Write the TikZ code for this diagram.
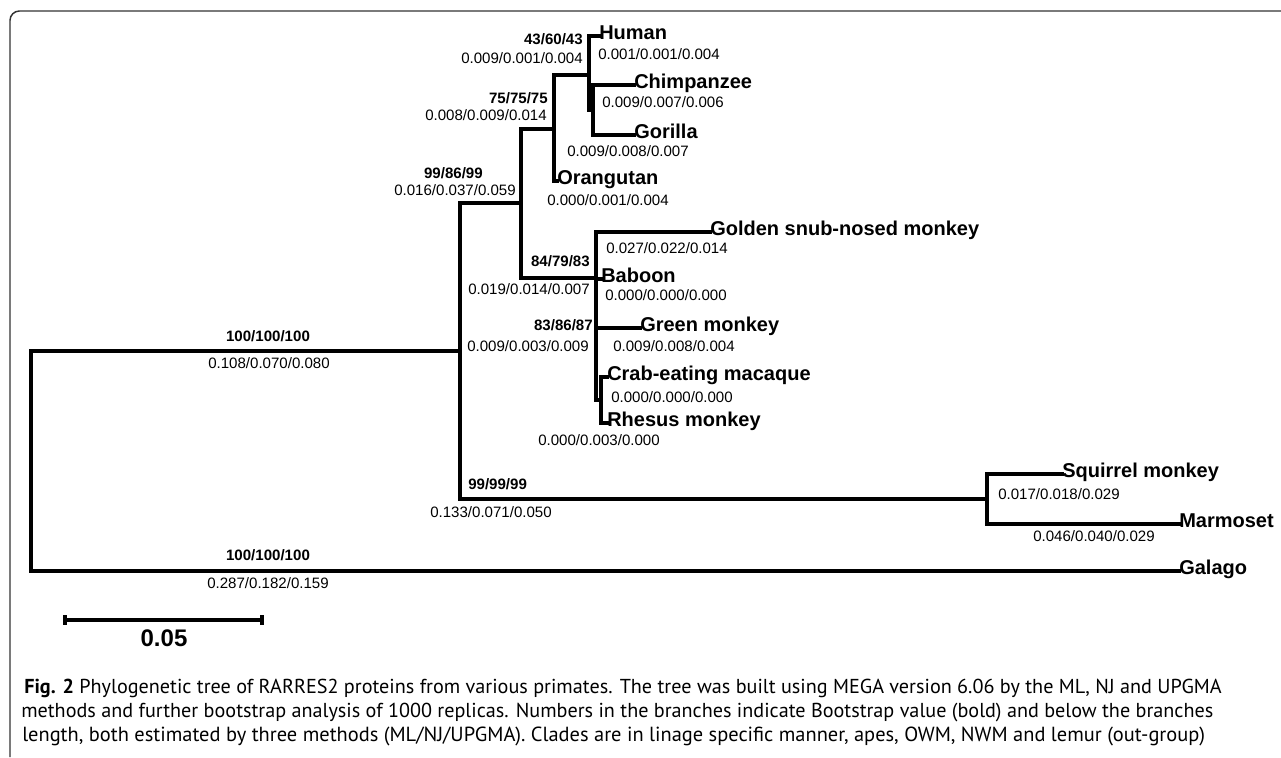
\documentclass[tikz,border=0pt]{standalone}
\usepackage{fontspec}
\setmainfont{Liberation Sans}
\newfontfamily\capfont{PT Sans}
\usepackage{tikz}
\usetikzlibrary{arrows.meta}
\tikzset{branch/.style = {line width = 3pt, line cap = rect, line join = miter}}
\tikzset{taxon/.style = {anchor = mid west, inner sep = 0pt, font = \bfseries\fontsize{15}{18}\selectfont}}
\tikzset{boot/.style = {inner sep = 0pt, font = \bfseries\fontsize{11.3}{13}\selectfont}}
\tikzset{blen/.style = {inner sep = 0pt, font = \fontsize{11.3}{13}\selectfont}}
\tikzset{capline/.style = {anchor = mid west, inner sep = 0pt, font = \capfont\fontsize{13.5}{16}\selectfont}}

\begin{document}
\begin{tikzpicture}[x = 0.75pt, y = -0.75pt]
				\useasboundingbox (0, 0) rectangle (1281, 757);
				\draw[line width = 1.1pt, black!80, rounded corners = 7pt] (10, 757) -- (10, 11) -- (1281, 11);

				\coordinate (root) at (31, 351);
				\coordinate (ingroup) at (460, 351);
				\coordinate (catarrh) at (521, 203);
				\coordinate (apes) at (554, 129);
				\coordinate (hominini) at (589, 75);
				\coordinate (pangor) at (593, 110);
				\coordinate (owm) at (596, 278);
				\coordinate (cerco) at (596, 328);
				\coordinate (macaca) at (601, 400);
				\coordinate (nwm) at (987, 499);

				\node[taxon] (human) at (599, 36) {Human};
				\node[taxon] (chimp) at (634, 85) {Chimpanzee};
				\node[taxon] (gorilla) at (634, 135) {Gorilla};
				\node[taxon] (orangutan) at (557, 181) {Orangutan};
				\node[taxon] (golden) at (710, 232) {Golden snub-nosed monkey};
				\node[taxon] (baboon) at (601, 279) {Baboon};
				\node[taxon] (green) at (640, 328) {Green monkey};
				\node[taxon] (crab) at (607, 377) {Crab-eating macaque};
				\node[taxon] (rhesus) at (607, 423) {Rhesus monkey};
				\node[taxon] (squirrel) at (1062, 474) {Squirrel monkey};
				\node[taxon] (marmoset) at (1179, 524) {Marmoset};
				\node[taxon] (galago) at (1179, 571) {Galago};

				\draw[branch] (root) |- (ingroup);
				\draw[branch] (root) |- (galago.mid west);
				\draw[branch] (ingroup) |- (catarrh);
				\draw[branch] (ingroup) |- (nwm);
				\draw[branch] (catarrh) |- (apes);
				\draw[branch] (catarrh) |- (owm);
				\draw[branch] (apes) |- (hominini);
				\draw[branch] (apes) |- (orangutan.mid west);
				\draw[branch] (hominini) |- (human.mid west);
				\draw[branch] (hominini) |- (pangor);
				\draw[branch] (pangor) |- (chimp.mid west);
				\draw[branch] (pangor) |- (gorilla.mid west);
				\draw[branch] (owm) |- (golden.mid west);
				\draw[branch] (owm) |- (baboon.mid west);
				\draw[branch] (owm) |- (cerco);
				\draw[branch] (cerco) |- (green.mid west);
				\draw[branch] (cerco) |- (macaca);
				\draw[branch] (macaca) |- (crab.mid west);
				\draw[branch] (macaca) |- (rhesus.mid west);
				\draw[branch] (nwm) |- (squirrel.mid west);
				\draw[branch] (nwm) |- (marmoset.mid west);

				\node[boot, anchor = mid] (b1) at (268, 338) {100/100/100};
				\node[blen, anchor = mid] (l1) at (269, 365) {0.108/0.070/0.080};
				\node[boot, anchor = mid] (b2) at (268, 557) {100/100/100};
				\node[blen, anchor = mid] (l2) at (268, 585) {0.287/0.182/0.159};
				\node[boot, anchor = mid west] (b3) at (468, 486) {99/99/99};
				\node[blen, anchor = mid west] (l3) at (430, 514) {0.133/0.071/0.050};
				\node[boot, anchor = mid east] (b4) at (483, 175) {99/86/99};
				\node[blen, anchor = mid east] (l4) at (516, 192) {0.016/0.037/0.059};
				\node[boot, anchor = mid east] (b5) at (590, 263) {84/79/83};
				\node[blen, anchor = mid east] (l5) at (590, 291) {0.019/0.014/0.007};
				\node[boot, anchor = mid east] (b6) at (548, 100) {75/75/75};
				\node[blen, anchor = mid east] (l6) at (547, 117) {0.008/0.009/0.014};
				\node[boot, anchor = mid east] (b7) at (583, 41) {43/60/43};
				\node[blen, anchor = mid east] (l7) at (583, 60) {0.009/0.001/0.004};
				\node[boot, anchor = mid east] (b8) at (593, 327) {83/86/87};
				\node[blen, anchor = mid east] (l8) at (589, 348) {0.009/0.003/0.009};

				\node[blen, anchor = mid west] (l9) at (598, 56) {0.001/0.001/0.004};
				\node[blen, anchor = mid west] (l10) at (602, 104) {0.009/0.007/0.006};
				\node[blen, anchor = mid west] (l11) at (567, 153) {0.009/0.008/0.007};
				\node[blen, anchor = mid west] (l12) at (547, 202) {0.000/0.001/0.004};
				\node[blen, anchor = mid west] (l13) at (606, 250) {0.027/0.022/0.014};
				\node[blen, anchor = mid west] (l14) at (605, 297) {0.000/0.000/0.000};
				\node[blen, anchor = mid west] (l15) at (613, 348) {0.009/0.008/0.004};
				\node[blen, anchor = mid west] (l16) at (611, 399) {0.000/0.000/0.000};
				\node[blen, anchor = mid west] (l17) at (538, 442) {0.000/0.003/0.000};
				\node[blen, anchor = mid west] (l18) at (998, 496) {0.017/0.018/0.029};
				\node[blen, anchor = mid west] (l19) at (1033, 538) {0.046/0.040/0.029};

				\coordinate (sbl) at (63, 620);
				\coordinate (sbr) at (264, 620);
				\draw[line width = 3pt, {Bar[width = 7pt]}-{Bar[width = 7pt]}] (sbl) -- (sbr);
				\node[boot, font = \bfseries\fontsize{18}{21}\selectfont, anchor = mid] (sbtext) at (164, 643) {0.05};

				\node[capline] (cap1) at (24, 690) {\resizebox{898pt}{!}{\textbf{Fig. 2} Phylogenetic tree of RARRES2 proteins from various primates. The tree was built using MEGA version 6.06 by the ML, NJ and UPGMA}};
				\node[capline] (cap2) at (21, 714) {\resizebox{894pt}{!}{methods and further bootstrap analysis of 1000 replicas. Numbers in the branches indicate Bootstrap value (bold) and below the branches}};
				\node[capline] (cap3) at (22, 738) {\resizebox{887pt}{!}{length, both estimated by three methods (ML/NJ/UPGMA). Clades are in linage specific manner, apes, OWM, NWM and lemur (out-group)}};
			\end{tikzpicture}
\end{document}
